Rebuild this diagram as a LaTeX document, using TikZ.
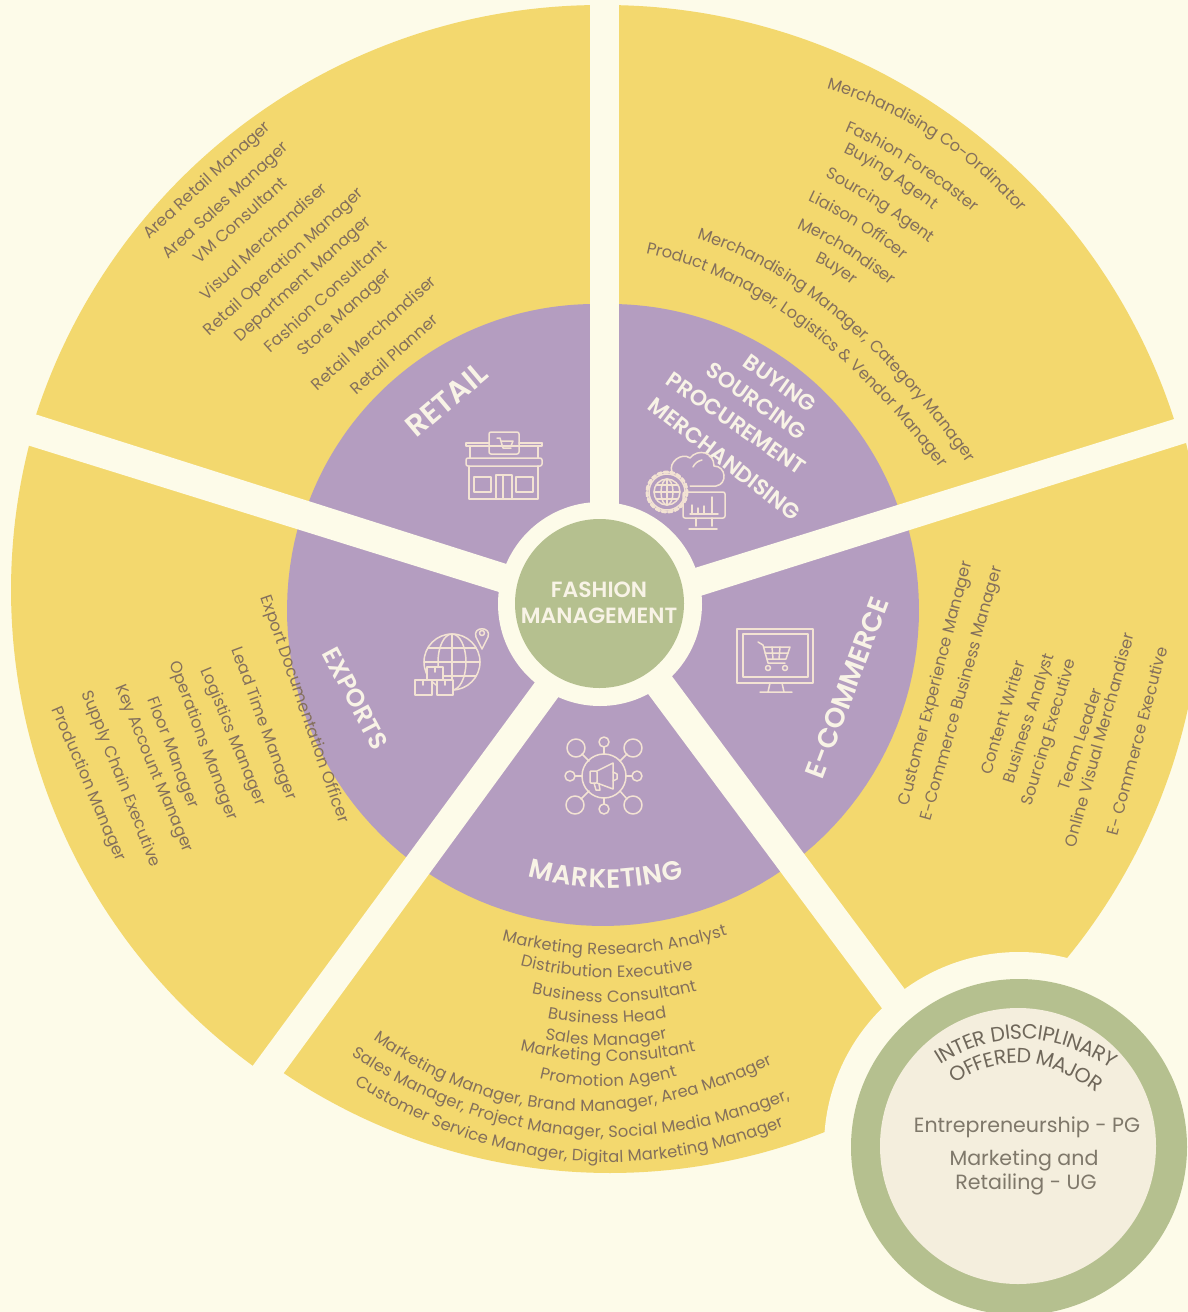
\documentclass[tikz,border=0pt]{standalone}
\usepackage{fontspec}
\setmainfont{Poppins}
\newfontfamily\semib{Poppins SemiBold}
\usetikzlibrary{decorations.text}
\definecolor{bgc}{HTML}{FDFBE9}
\definecolor{yel}{HTML}{F3D86E}
\definecolor{pur}{HTML}{B49DC0}
\definecolor{grn}{HTML}{B5C08F}
\definecolor{inn}{HTML}{F4EEDD}
\definecolor{listc}{HTML}{84705C}
\definecolor{titc}{HTML}{F8F3E6}
\definecolor{icoc}{HTML}{F3E3D3}
\definecolor{darkc}{HTML}{6F675A}
\definecolor{midc}{HTML}{7F786A}
\newcommand\listfont{\fontsize{16.3}{16.3}\selectfont}
\tikzset{
  listtxt/.style={text=listc,inner sep=0pt,font=\listfont},
  titleret/.style={text=titc,inner sep=0pt,font=\semib\fontsize{30}{30}\selectfont},
  titleeco/.style={text=titc,inner sep=0pt,font=\semib\fontsize{27.5}{27.5}\selectfont},
  titleexp/.style={text=titc,inner sep=0pt,font=\semib\fontsize{25}{25}\selectfont},
  titlesm/.style={text=titc,inner sep=0pt,font=\semib\fontsize{22}{22}\selectfont},
  centertxt/.style={text=titc,inner sep=0pt,font=\semib\fontsize{22}{22}\selectfont},
  circletxt/.style={text=midc,inner sep=0pt,font=\fontsize{20.6}{20.6}\selectfont},
  iconline/.style={draw=icoc,line width=1.5pt,line join=round,line cap=round},
}
\newcounter{lbl}
\newcommand\rottext[6]{\stepcounter{lbl}%
  \node[#1,rotate={atan2(-(#5-#3),#4-#2)}] (t\arabic{lbl}) at ({(#2+#4)/2},{(#3+#5)/2}) {#6};}
\newcommand\curvetext[9]{%
  \path[decorate,decoration={text along path,text align=center,raise=#8pt,
    text={|#9|#7}}]
    plot[domain=-0.25:1.25,samples=50]
    ({(1-\x)*(1-\x)*#1+2*\x*(1-\x)*(2*#3-0.5*#1-0.5*#5)+\x*\x*#5},
     {(1-\x)*(1-\x)*#2+2*\x*(1-\x)*(2*#4-0.5*#2-0.5*#6)+\x*\x*#6});}
\newcommand\lc[7]{\curvetext{#1}{#2}{#3}{#4}{#5}{#6}{#7}{-5.5}{\listfont\color{listc}}}
\newcommand\sector[6]{\fill[#1] (604,604) -- plot[domain=#5:#6,samples=90]
  ({#2+#4*cos(\x)},{#3+#4*sin(\x)}) -- cycle;}
\begin{document}
\begin{tikzpicture}[x=1pt,y=-1pt]
\useasboundingbox (0,0) rectangle (1188,1312);
\clip (0,0) rectangle (1188,1312);
\fill[bgc] (0,0) rectangle (1188,1312);
% yellow sectors
\sector{yel}{600}{598}{593}{196.5}{270.4}
\sector{yel}{605}{603}{598}{270}{343.1}
\sector{yel}{605}{580}{597}{-14.6}{58}
\sector{yel}{610}{590}{583}{55.3}{125.5}
\sector{yel}{600}{590}{589}{124.7}{195.7}
% purple sectors
\sector{pur}{595}{610}{306}{197.9}{271.8}
\sector{pur}{610}{610}{306}{269}{342.6}
\sector{pur}{603}{610}{316}{-17}{197.4}
% separating bands
\fill[bgc] (590,-5) -- (619,-5) -- (619,610) -- (590,610) -- cycle;
\fill[bgc] (640,585) -- (1200,411) -- (1200,438.5) -- (640,615) -- cycle;
\fill[bgc] (560,581) -- (0,403) -- (0,436.6) -- (560,611) -- cycle;
\fill[bgc] (566,640) -- (154,1200) -- (191,1200) -- (600,640) -- cycle;
\fill[bgc] (608,640) -- (913,1050) -- (950,1050) -- (645,640) -- cycle;
% centre
\fill[bgc] (600,604) circle[radius=102];
\node[circle,fill=grn,minimum size=169pt,inner sep=0pt] (hub) at (599.5,603.5) {};
\node[centertxt] (hub1) at (599,590) {FASHION};
\node[centertxt] (hub2) at (599,616) {MANAGEMENT};
% side circle
\fill[bgc] (1019,1147) circle[radius=195];
\node[circle,fill=grn,minimum size=336pt,inner sep=0pt] (major) at (1019,1147) {};
\node[circle,fill=inn,minimum size=276pt,inner sep=0pt] (majorin) at (1018,1146) {};
\curvetext{932}{1062}{1023}{1032}{1117}{1064}{INTER DISCIPLINARY}{-7}{\fontsize{20.5}{20.5}\selectfont\color{darkc}}
\curvetext{948}{1080}{1023}{1056}{1100}{1087}{OFFERED MAJOR}{-7}{\fontsize{20.5}{20.5}\selectfont\color{darkc}}
\node[circletxt] (m1) at (1027,1127) {Entrepreneurship - PG};
\node[circletxt] (m2) at (1024,1160) {Marketing and};
\node[circletxt] (m3) at (1026,1184) {Retailing - UG};
% titles
\rottext{titleret}{405}{435}{488}{365}{RETAIL}
\rottext{titlesm}{745}{358}{815}{408}{BUYING}
\rottext{titlesm}{705}{365}{807}{437}{SOURCING}
\rottext{titlesm}{666}{375}{807}{472}{PROCUREMENT}
\rottext{titlesm}{648}{400}{801}{518}{MERCHANDISING}
\rottext{titleeco}{812}{780}{882}{595}{E-COMMERCE}
\rottext{titleexp}{327}{645}{384}{752}{EXPORTS}
\curvetext{530}{868}{607}{879}{683}{868}{MARKETING}{-9}{\semib\fontsize{26.5}{26.5}\selectfont\color{titc}}
% retail list
\rottext{listtxt}{143}{240}{272}{122}{Area Retail Manager}
\rottext{listtxt}{163}{260}{290}{143}{Area Sales Manager}
\rottext{listtxt}{193}{262}{287}{178}{VM Consultant}
\rottext{listtxt}{198}{300}{328}{182}{Visual Merchandiser}
\rottext{listtxt}{203}{337}{366}{188}{Retail Operation Manager}
\rottext{listtxt}{235}{343}{373}{217}{Department Manager}
\rottext{listtxt}{263}{352}{387}{240}{Fashion Consultant}
\rottext{listtxt}{298}{357}{393}{270}{Store Manager}
\rottext{listtxt}{310}{390}{437}{275}{Retail Merchandiser}
\rottext{listtxt}{350}{393}{438}{315}{Retail Planner}
% buying list
\lc{823}{82}{935}{132}{1027}{213}{Merchandising Co-Ordinator}
\lc{836}{122}{901}{154}{972}{204}{Fashion Forecaster}
\lc{838}{144}{883}{168}{933}{203}{Buying Agent}
\lc{822}{169}{875}{199}{931}{237}{Sourcing Agent}
\lc{808}{195}{860}{223}{908}{257}{Liaison Officer}
\lc{796}{222}{847}{248}{895}{282}{Merchandiser}
\lc{813}{255}{833}{265}{855}{280}{Buyer}
\lc{668}{226}{818}{296}{962}{446}{Merchandising Manager, Category Manager}
\lc{617}{243}{784}{307}{938}{457}{Product Manager, Logistics {\&} Vendor Manager}
% e-commerce list
\rottext{listtxt}{905}{805}{968}{562}{Customer Experience Manager}
\rottext{listtxt}{927}{820}{998}{567}{E-Commerce Business Manager}
\rottext{listtxt}{985}{775}{1020}{660}{Content Writer}
\rottext{listtxt}{1010}{782}{1050}{655}{Business Analyst}
\rottext{listtxt}{1028}{805}{1072}{660}{Sourcing Executive}
\rottext{listtxt}{1063}{790}{1097}{688}{Team Leader}
\rottext{listtxt}{1070}{845}{1128}{635}{Online Visual Merchandiser}
\rottext{listtxt}{1112}{835}{1162}{647}{E- Commerce Executive}
% exports list
\rottext{listtxt}{265}{597}{343}{822}{Export Documentation Officer}
\rottext{listtxt}{235}{648}{291}{800}{Lead Time Manager}
\rottext{listtxt}{204}{668}{261}{806}{Logistics Manager}
\rottext{listtxt}{173}{662}{232}{820}{Operations Manager}
\rottext{listtxt}{151}{698}{193}{808}{Floor Manager}
\rottext{listtxt}{118}{685}{188}{853}{Key Account Manager}
\rottext{listtxt}{85}{690}{156}{868}{Supply Chain Executive}
\rottext{listtxt}{55}{707}{121}{862}{Production Manager}
% marketing list
\lc{501}{935}{612}{949}{725}{930}{Marketing Research Analyst}
\lc{519}{960}{605}{972}{693}{964}{Distribution Executive}
\lc{528}{987}{612}{997}{698}{985}{Business Consultant}
\lc{545}{1012}{605}{1018}{667}{1012}{Business Head}
\lc{543}{1033}{605}{1040}{668}{1033}{Sales Manager}
\lc{517}{1044}{607}{1056}{698}{1045}{Marketing Consultant}
\lc{537}{1072}{607}{1081}{678}{1070}{Promotion Agent}
\lc{367}{1028}{560}{1105}{772}{1058}{Marketing Manager, Brand Manager, Area Manager}
\lc{350}{1048}{570}{1130}{797}{1090}{Sales Manager, Project Manager, Social Media Manager,}
\lc{355}{1078}{570}{1155}{790}{1118}{Customer Service Manager, Digital Marketing Manager}
% retail icon
\begin{scope}[iconline]
\draw (466,443) -- (489,443) (519,443) -- (542,443);
\draw (466,443) -- (466,446) -- (542,446) -- (542,443);
\draw (470,446) -- (470,458) (538,446) -- (538,458);
\draw[rounded corners=2pt] (489,432) rectangle (519,454);
\draw (497,438) -- (500,438) -- (503,448) -- (511,448) (501,441) -- (513,441) -- (511,446);
\draw[rounded corners=2pt] (466,458) rectangle (542,466);
\draw (469,466) -- (469,499) -- (538,499) -- (538,466);
\draw (474,477) rectangle (491,492);
\draw (516,477) rectangle (533,492);
\draw (496,499) -- (496,475) -- (512,475) -- (512,499) (503,475) -- (503,499);
\end{scope}
% buying icon
\begin{scope}[iconline]
\draw (667,492) circle[radius=13];
\draw (654,492) -- (680,492) (667,479) -- (667,505);
\draw (667,492) ellipse[x radius=6,y radius=13];
\draw (656,485) -- (678,485) (656,499) -- (678,499);
\draw[dash pattern=on 4pt off 2.5pt,line width=3pt] (667,492) circle[radius=20];
\draw (667,492) circle[radius=18];
\draw (672,472) .. controls (668,462) and (682,452) .. (690,458) .. controls (698,448) and (714,452) .. (714,466)
  .. controls (726,466) and (728,484) .. (716,486) -- (690,486);
\draw (693,467) .. controls (695,463) and (698,461) .. (702,460);
\draw[rounded corners=2pt] (683,492) rectangle (725,518);
\draw (696,518) -- (696,526) (712,518) -- (712,526) (689,529) -- (717,529);
\draw (690,514) -- (718,514) (692,514) -- (692,505) (698,514) -- (698,508) (704,514) -- (704,506) (712,514) -- (712,497);
\end{scope}
% e-commerce icon
\begin{scope}[iconline]
\draw (737,629) rectangle (813,683);
\draw (743,634) rectangle (808,677);
\draw (770,683) -- (768,692) (782,683) -- (784,692) (760,692) -- (792,692);
\draw (758,642) -- (763,645) -- (768,663) -- (785,663);
\draw (764,647) -- (790,647) -- (786,659) -- (767,659);
\draw (772,647) -- (773,659) (780,647) -- (779,659) (765,653) -- (788,653);
\draw (768,668) circle[radius=2.5] (785,668) circle[radius=2.5];
\end{scope}
% exports icon
\begin{scope}[iconline]
\draw (452,662) circle[radius=28];
\draw (452,662) ellipse[x radius=14,y radius=28];
\draw (452,634) -- (452,690) (424,662) -- (480,662);
\draw (428,648) -- (476,648) (428,676) -- (476,676);
\draw[fill=pur] (482,649) -- (476,637) .. controls (472,626) and (492,626) .. (488,637) -- cycle;
\draw (482,633) circle[radius=2.5];
\draw[fill=pur] (427,667) rectangle (443,680);
\draw[fill=pur] (415,680) rectangle (432,695);
\draw[fill=pur] (437,680) rectangle (453,695);
\draw (435,667) -- (435,672) (423,680) -- (423,685) (445,680) -- (445,685);
\end{scope}
% marketing icon
\begin{scope}[iconline]
\draw (604,776) circle[radius=22];
\foreach \xa/\ya/\ra in {576/748/9,633/748/9,575/805/9,633/805/9,604/742/5,570/776/5,637/776/5,604/809/5}{
  \draw (\xa,\ya) circle[radius=\ra];
}
\draw (582,754) -- (589,761) (627,754) -- (620,761) (581,799) -- (589,791) (627,799) -- (620,791);
\draw (604,747) -- (604,754) (575,776) -- (582,776) (632,776) -- (626,776) (604,804) -- (604,798);
\draw[rounded corners=1pt] (590,771) rectangle (597,783);
\draw (597,771) -- (613,763) -- (613,789) -- (597,783);
\draw (613,772) -- (617,774) -- (617,779) -- (613,781);
\draw (594,783) -- (596,790) -- (600,790) -- (599,784);
\end{scope}
\end{tikzpicture}
\end{document}
